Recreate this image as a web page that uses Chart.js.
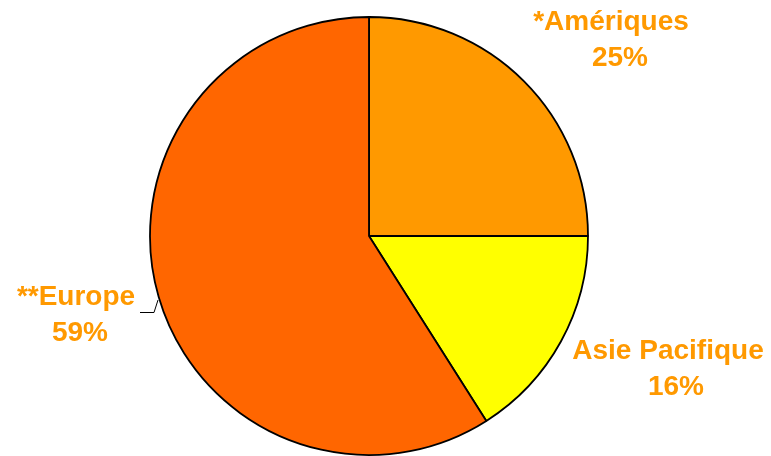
<!DOCTYPE html>
<html>
<head>
<meta charset="utf-8">
<script src="https://cdn.jsdelivr.net/npm/chart.js@4"></script>
<style>
  html, body { margin: 0; padding: 0; background: #fff; }
  #wrap { width: 771px; height: 456px; }
</style>
</head>
<body>
<div id="wrap"><canvas id="pie" width="771" height="456"></canvas></div>
<script>
// --- Données ---
const regions = ['*Amériques', 'Asie Pacifique', '**Europe'];
const parts = [25, 16, 59];
const couleurs = ['#FF9900', '#FFFF00', '#FF6600'];

// position des étiquettes (décalage par rapport au centre du camembert)
const decalages = [[242, -196], [299, 133], [-293, 79]];
const decalPct = [9, 8, 4];

const etiquettes = {
    id: 'etiquettes',
    afterDraw(chart) {
        const ctx = chart.ctx;
        const arc = chart.getDatasetMeta(0).data[0];
        const cx = arc.x, cy = arc.y;
        ctx.save();
        ctx.fillStyle = '#FF9900';
        ctx.font = 'bold 28px "Liberation Sans", Arial, sans-serif';
        ctx.textAlign = 'center';
        ctx.textBaseline = 'middle';
        regions.forEach((nom, i) => {
            const [dx, dy] = decalages[i];
            ctx.fillText(nom, cx + dx, cy + dy - 18);
            ctx.fillText(parts[i] + '%', cx + dx + decalPct[i], cy + dy + 18);
        });
        // trait de rappel pour l'Europe
        ctx.strokeStyle = '#000';
        ctx.lineWidth = 1;
        ctx.beginPath();
        ctx.moveTo(cx - 229, cy + 76.5);
        ctx.lineTo(cx - 215, cy + 76.5);
        ctx.lineTo(cx - 211, cy + 64);
        ctx.stroke();
        ctx.restore();
    }
};

new Chart(document.getElementById('pie'), {
    type: 'pie',
    data: {
        labels: regions,
        datasets: [{
            data: parts,
            backgroundColor: couleurs,
            borderColor: '#000',
            borderWidth: 1.8
        }]
    },
    options: {
        responsive: false,
        animation: false,
        radius: 219,
        layout: { padding: { left: 0, right: 33, top: 16, bottom: 0 } },
        plugins: {
            legend: { display: false },
            tooltip: { enabled: false }
        }
    },
    plugins: [etiquettes]
});
</script>
</body>
</html>
